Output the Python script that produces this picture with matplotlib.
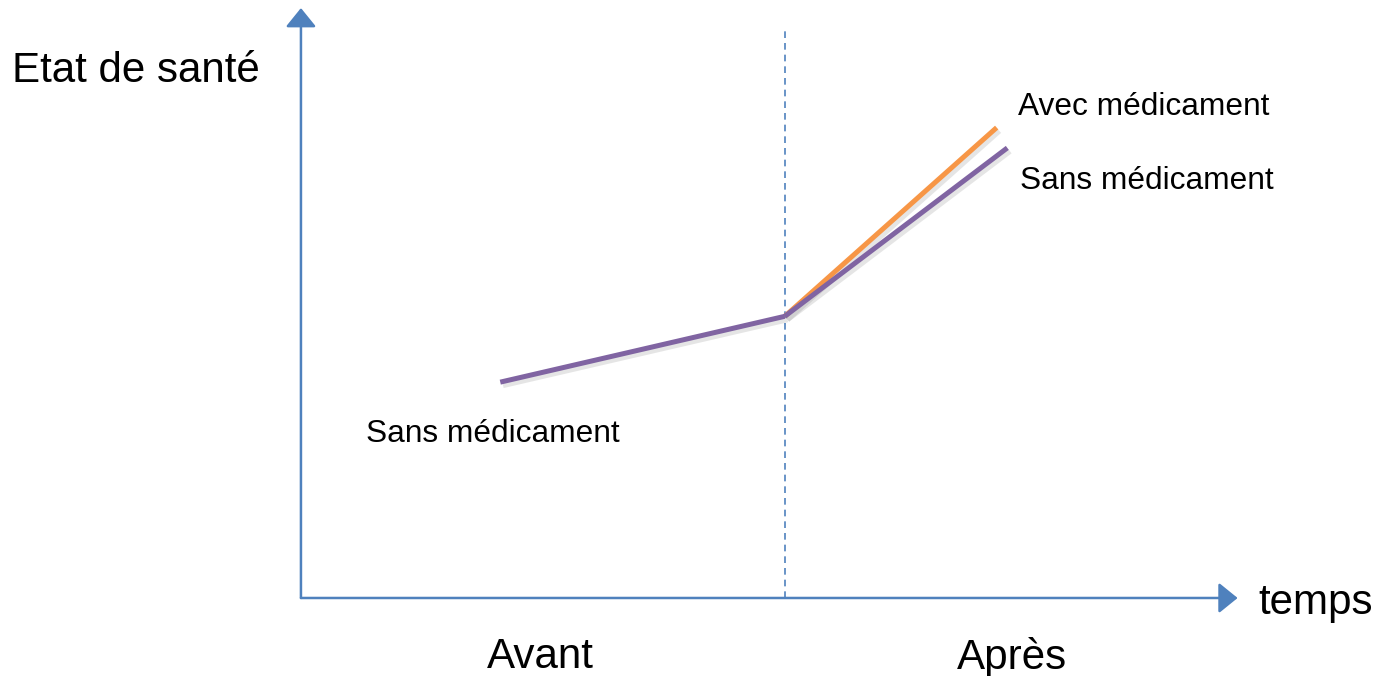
import matplotlib
matplotlib.use("Agg")
import matplotlib.pyplot as plt
import matplotlib.patheffects as pe

plt.rcParams['font.family'] = ['Liberation Sans', 'DejaVu Sans']

# Data (time units, health units)
before_t = [2.06, 5.0]
before_h = [2.23, 2.91]
after_sans_t = [5.0, 7.3]
after_sans_h = [2.91, 4.65]
after_avec_t = [5.0, 7.19]
after_avec_h = [2.91, 4.86]
period_labels = ["Avant", "Après"]
period_label_t = [2.47, 7.35]

BLUE = "#4F81BD"
PURPLE = "#8064A2"
ORANGE = "#F79646"

fig = plt.figure(figsize=(13.76, 6.76), dpi=100)
ax = fig.add_axes([0, 0, 1, 1])
ax.set_xlim(-3.11, 11.11)
ax.set_ylim(-0.806, 6.178)
ax.axis('off')

# axes arrows
arrow_kw = dict(arrowstyle='-|>,head_length=0.58,head_width=0.47', color=BLUE,
                lw=1.8, mutation_scale=20, shrinkA=0, shrinkB=0)
ax.annotate("", xy=(0, 6.095), xytext=(0, 0), arrowprops=arrow_kw)
ax.annotate("", xy=(9.68, 0), xytext=(0, 0), arrowprops=arrow_kw)

# dashed separator
ax.plot([5.0, 5.0], [0, 5.87], color=BLUE, lw=1.2, ls=(0, (4, 3)))

shadow = [pe.SimpleLineShadow(offset=(2, -2.5), shadow_color='gray', alpha=0.2),
          pe.Normal()]
ax.plot(after_avec_t, after_avec_h, color=ORANGE, lw=3.6, solid_capstyle='butt',
        path_effects=shadow)
ax.plot(after_sans_t, after_sans_h, color=PURPLE, lw=3.6, solid_capstyle='butt',
        path_effects=shadow)
ax.plot(before_t, before_h, color=PURPLE, lw=3.6, solid_capstyle='butt',
        path_effects=shadow)

BIG = 30.3
SMALL = 22.8
ax.text(-2.985, 5.445, "Etat de santé", fontsize=BIG, ha='left', va='center')
ax.text(9.89, -0.05, "temps", fontsize=BIG, ha='left', va='center')
for lab, t in zip(period_labels, period_label_t):
    ax.text(t, -0.61, lab, fontsize=BIG, ha='center', va='center')

ax.text(7.41, 5.07, "Avec médicament", fontsize=SMALL, ha='left', va='center')
ax.text(7.43, 4.31, "Sans médicament", fontsize=SMALL, ha='left', va='center')
ax.text(0.67, 1.695, "Sans médicament", fontsize=SMALL, ha='left', va='center')

fig.savefig("out.png", dpi=100)
